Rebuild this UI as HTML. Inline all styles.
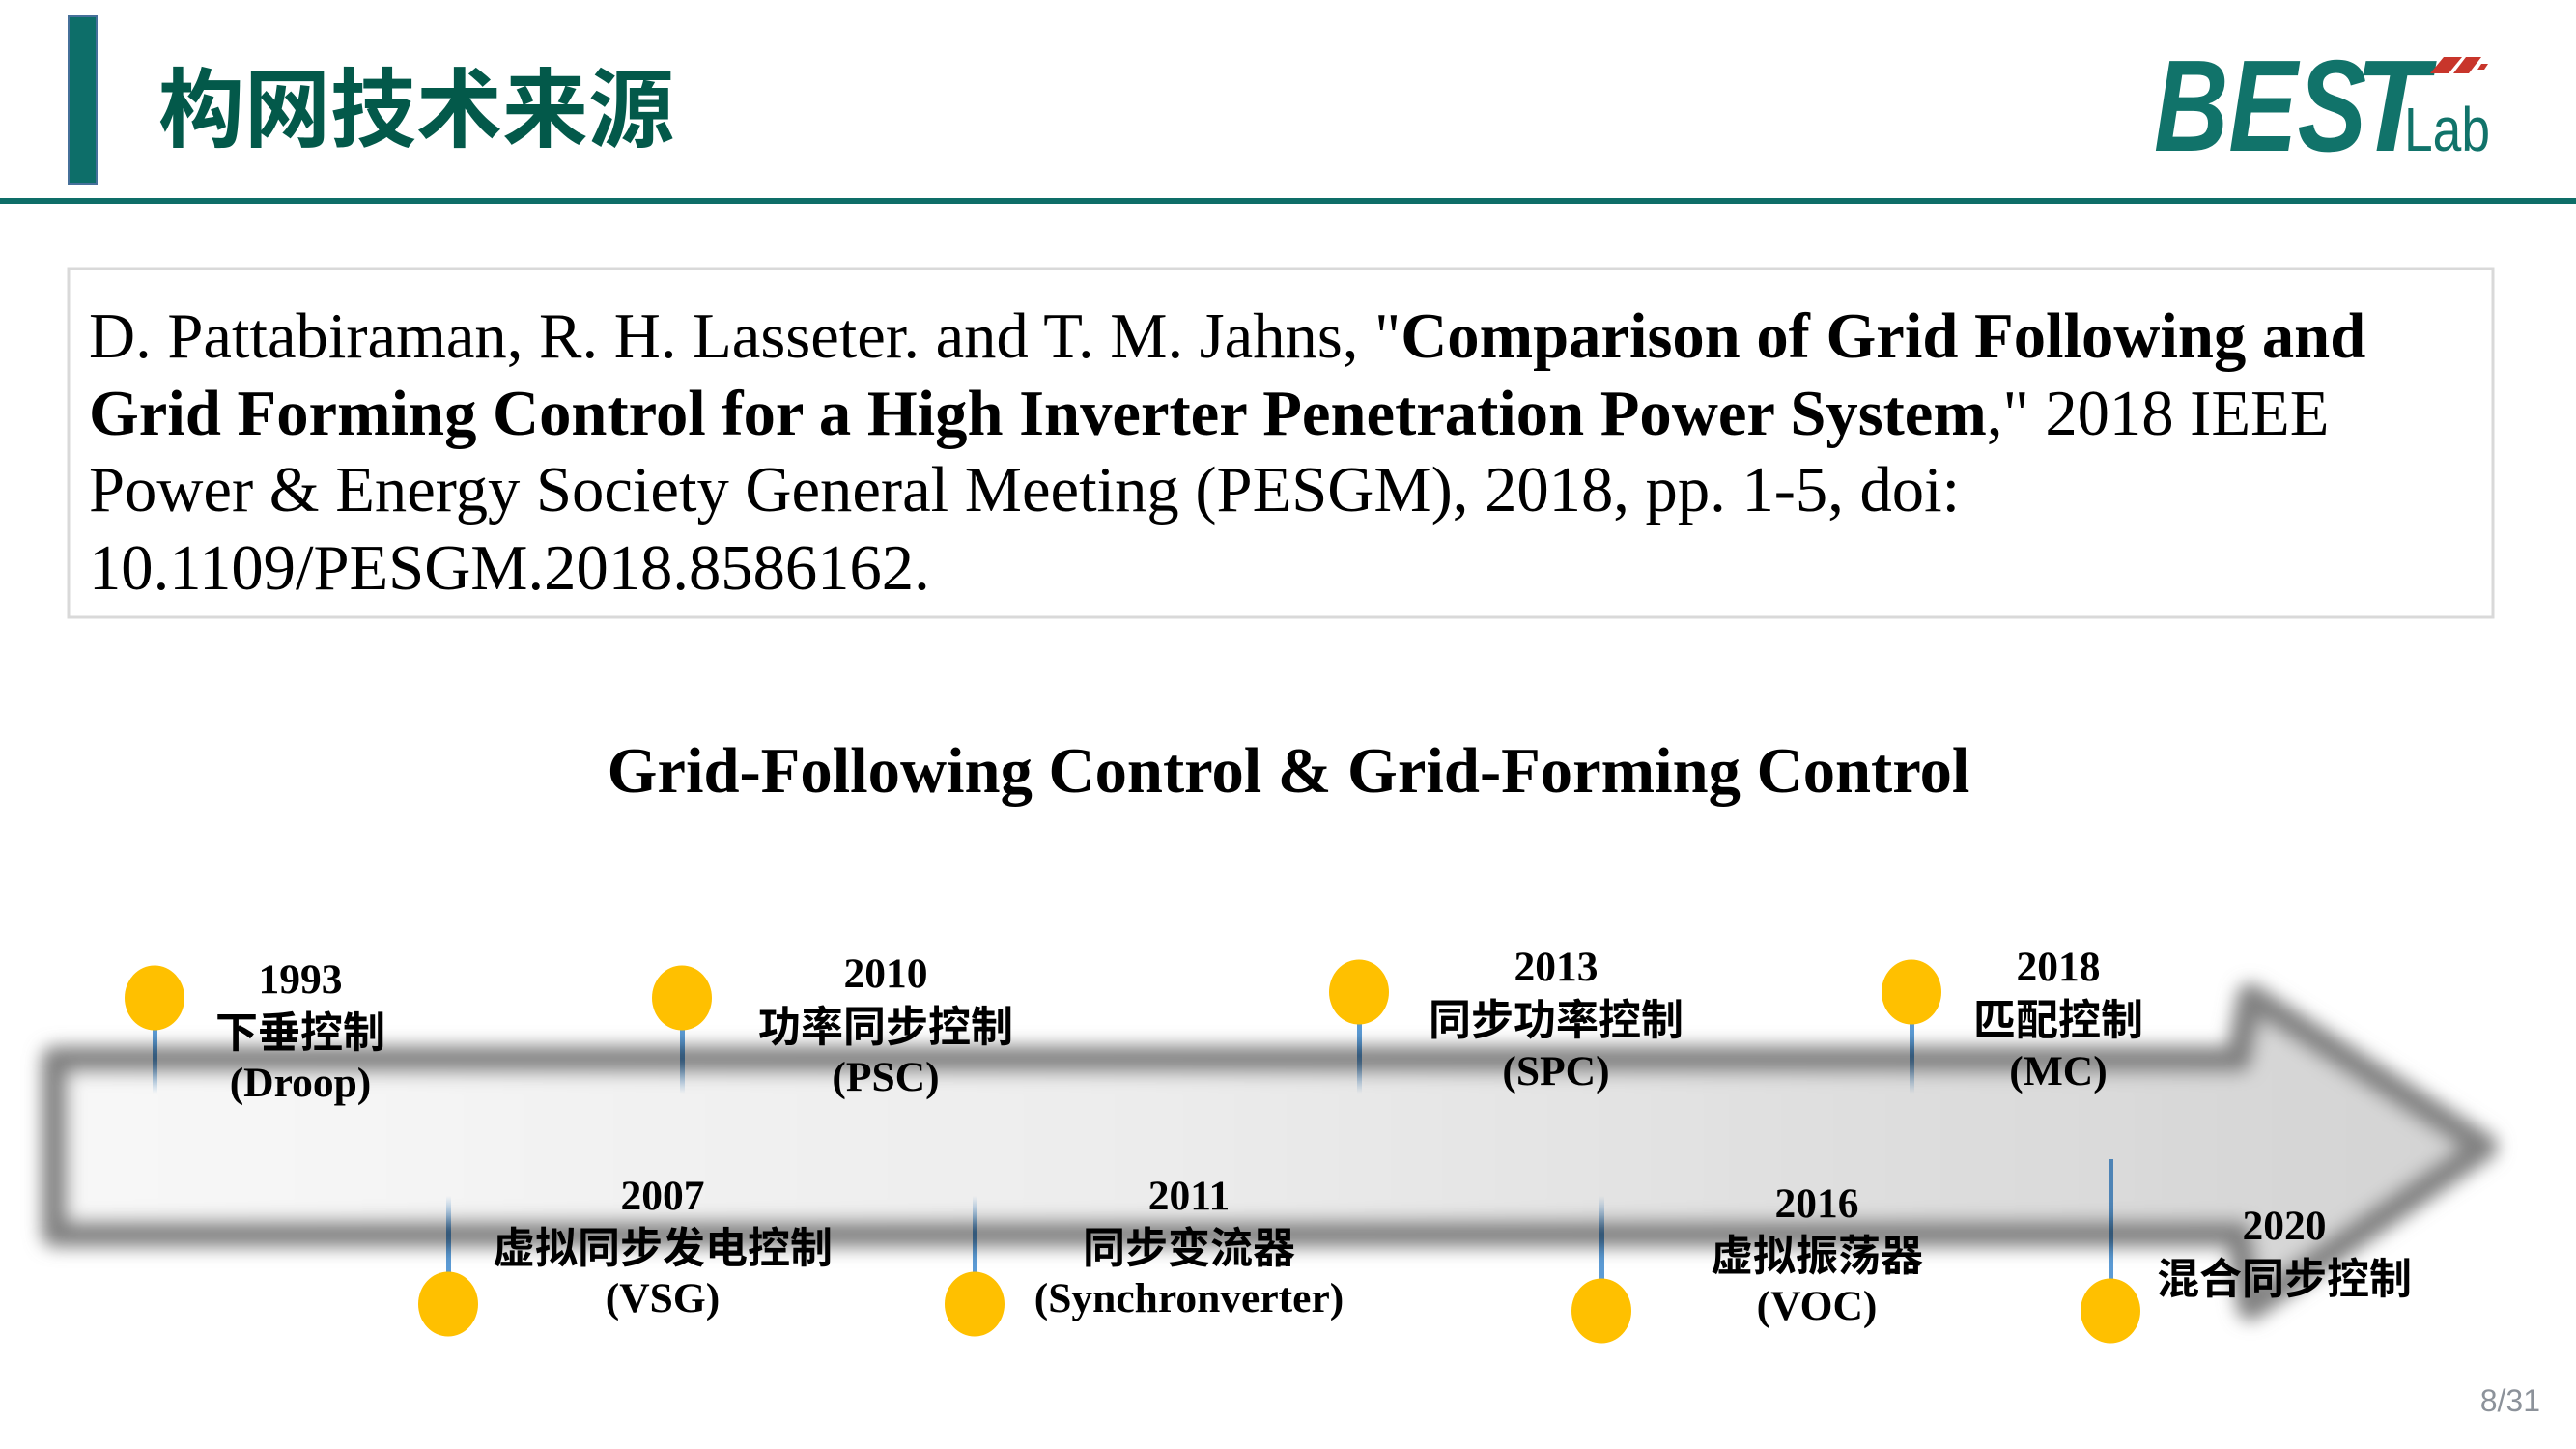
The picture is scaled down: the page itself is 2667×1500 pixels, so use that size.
<!DOCTYPE html>
<html><head><meta charset="utf-8"><style>
html,body{margin:0;padding:0;background:#fff;}
svg{display:block;}
</style></head><body>
<svg width="2667" height="1500" viewBox="0 0 2667 1500" xmlns="http://www.w3.org/2000/svg">
<defs>
<linearGradient id="fillg" gradientUnits="userSpaceOnUse" x1="57" y1="0" x2="2572" y2="0">
<stop offset="0" stop-color="#f8f8f8"/><stop offset="0.45" stop-color="#ececec"/><stop offset="0.75" stop-color="#dedede"/><stop offset="1" stop-color="#d3d3d3"/>
</linearGradient>
<filter id="blur" x="-5%" y="-40%" width="110%" height="180%"><feGaussianBlur stdDeviation="9"/></filter>
<linearGradient id="ftop" x1="0" y1="0" x2="0" y2="1"><stop offset="0" stop-color="#5b9bd5" stop-opacity="1"/><stop offset="0.5" stop-color="#5b9bd5" stop-opacity="1"/><stop offset="1" stop-color="#5b9bd5" stop-opacity="0"/></linearGradient>
<linearGradient id="fbot" x1="0" y1="0" x2="0" y2="1"><stop offset="0" stop-color="#5b9bd5" stop-opacity="0"/><stop offset="0.45" stop-color="#5b9bd5" stop-opacity="1"/><stop offset="1" stop-color="#5b9bd5" stop-opacity="1"/></linearGradient>
</defs>

<!-- header -->
<rect x="71" y="17" width="29" height="173" fill="#0d6e69" stroke="#46709a" stroke-width="2"/>
<text x="164" y="145" font-family="'Liberation Sans','Noto Sans CJK SC',sans-serif" font-weight="700" font-size="89" fill="#03594a">构网技术来源</text>
<rect x="0" y="205" width="2667" height="6" fill="#0e6e68"/>

<!-- logo -->
<text x="2230" y="156" font-family="'Liberation Sans',sans-serif" font-weight="700" font-style="italic" font-size="135" fill="#11736a" textLength="220" lengthAdjust="spacingAndGlyphs">BES</text>
<text x="2438" y="156" font-family="'Liberation Sans',sans-serif" font-weight="700" font-style="italic" font-size="135" fill="#11736a" textLength="76" lengthAdjust="spacingAndGlyphs">T</text>
<text x="2489" y="156" font-family="'Liberation Sans',sans-serif" font-size="64" fill="#11736a" textLength="89" lengthAdjust="spacingAndGlyphs">Lab</text>
<polygon points="2530,59 2549,59 2535,76 2516,76" fill="#c8352b"/>
<polygon points="2553,59 2569,59 2556,76 2540,76" fill="#c8352b"/>
<polygon points="2569,66 2576,66 2572,72 2565,72" fill="#c8352b"/>

<!-- reference box -->
<rect x="71" y="278" width="2510" height="361" fill="none" stroke="#d9d9d9" stroke-width="3"/>
<g font-family="'Liberation Serif',serif" font-size="66.6" fill="#000">
<text x="92" y="370">D. Pattabiraman, R. H. Lasseter. and T. M. Jahns, "<tspan font-weight="700">Comparison of Grid Following and</tspan></text>
<text x="92" y="450"><tspan font-weight="700">Grid Forming Control for a High Inverter Penetration Power System</tspan>," 2018 IEEE</text>
<text x="92" y="529">Power &amp; Energy Society General Meeting (PESGM), 2018, pp. 1-5, doi:</text>
<text x="92" y="610">10.1109/PESGM.2018.8586162.</text>
</g>

<!-- chart title -->
<text x="1334" y="820" text-anchor="middle" font-family="'Liberation Serif',serif" font-weight="700" font-size="66.6" fill="#000">Grid-Following Control &amp; Grid-Forming Control</text>

<!-- arrow -->
<g filter="url(#blur)">
<path d="M57,1097 L2318,1097 L2330,1032 L2572,1187 L2330,1353 L2318,1277 L57,1277 Z" fill="url(#fillg)" stroke="#828282" stroke-width="28" stroke-linejoin="round"/>
</g>

<!-- connector lines -->
<g style="mix-blend-mode:multiply">
<rect x="158" y="1060" width="5" height="72" fill="url(#ftop)"/>
<rect x="704" y="1060" width="5" height="72" fill="url(#ftop)"/>
<rect x="1405" y="1055" width="5" height="77" fill="url(#ftop)"/>
<rect x="1977" y="1055" width="5" height="77" fill="url(#ftop)"/>
<rect x="462" y="1238" width="5" height="82" fill="url(#fbot)"/>
<rect x="1007" y="1238" width="5" height="82" fill="url(#fbot)"/>
<rect x="1656" y="1238" width="5" height="88" fill="url(#fbot)"/>
<rect x="2183" y="1200" width="5" height="126" fill="#5b9bd5"/>
</g>

<!-- circles -->
<g fill="#ffc000">
<ellipse cx="160" cy="1033" rx="31" ry="33.5"/>
<ellipse cx="706" cy="1033" rx="31" ry="33.5"/>
<ellipse cx="1407" cy="1027" rx="31" ry="33.5"/>
<ellipse cx="1979" cy="1027" rx="31" ry="33.5"/>
<ellipse cx="464" cy="1350" rx="31" ry="33.5"/>
<ellipse cx="1009" cy="1350" rx="31" ry="33.5"/>
<ellipse cx="1658" cy="1357" rx="31" ry="33.5"/>
<ellipse cx="2185" cy="1357" rx="31" ry="33.5"/>
</g>

<!-- labels -->
<g text-anchor="middle" fill="#000">
<g font-family="'Liberation Serif',serif" font-weight="700" font-size="43.5">
<text x="311" y="1028">1993</text>
<text x="311" y="1135">(Droop)</text>
<text x="917" y="1022">2010</text>
<text x="917" y="1129">(PSC)</text>
<text x="1611" y="1015">2013</text>
<text x="1611" y="1123">(SPC)</text>
<text x="2131" y="1015">2018</text>
<text x="2131" y="1123">(MC)</text>
<text x="686" y="1252">2007</text>
<text x="686" y="1358">(VSG)</text>
<text x="1231" y="1252">2011</text>
<text x="1231" y="1358">(Synchronverter)</text>
<text x="1881" y="1260">2016</text>
<text x="1881" y="1366">(VOC)</text>
<text x="2365" y="1283">2020</text>
</g>
<g font-family="'Liberation Sans','Noto Sans CJK SC',sans-serif" font-weight="700" font-size="44">
<text x="311" y="1084">下垂控制</text>
<text x="917" y="1078">功率同步控制</text>
<text x="1611" y="1071">同步功率控制</text>
<text x="2131" y="1071">匹配控制</text>
<text x="686" y="1307">虚拟同步发电控制</text>
<text x="1231" y="1307">同步变流器</text>
<text x="1881" y="1315">虚拟振荡器</text>
<text x="2365" y="1339">混合同步控制</text>
</g>
</g>

<!-- page number -->
<text x="2630" y="1461" text-anchor="end" font-family="'Liberation Sans',sans-serif" font-size="32" fill="#8c929a">8/31</text>
</svg>
</body></html>
